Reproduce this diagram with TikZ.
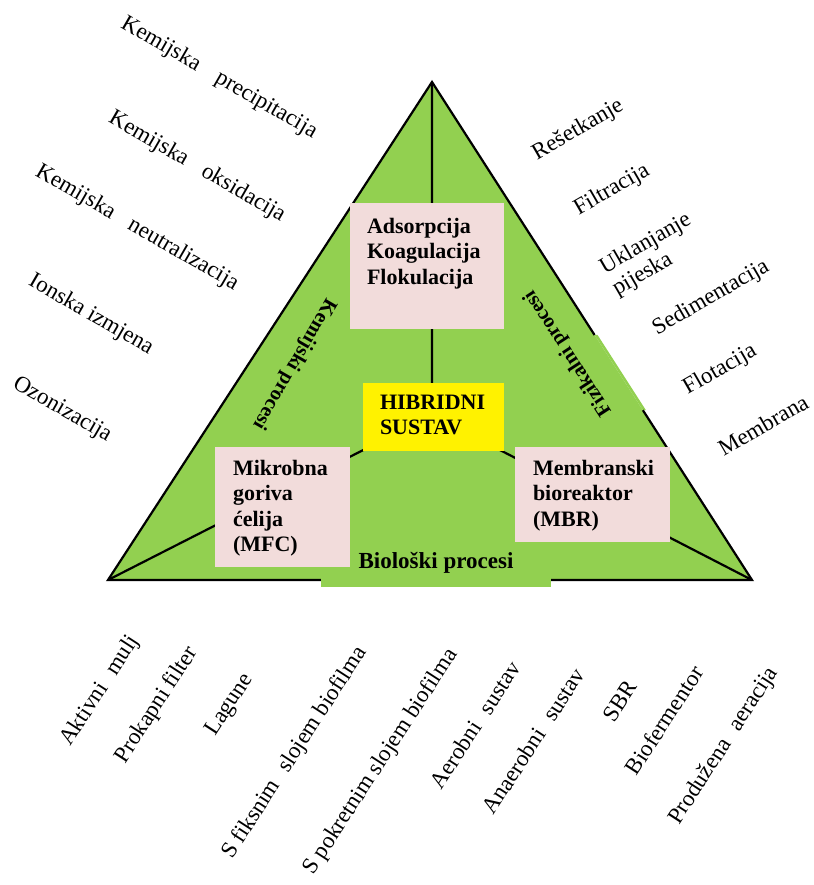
\documentclass[tikz,border=0pt]{standalone}
\usepackage{fontspec}
\setmainfont{Liberation Serif}
\usetikzlibrary{calc}
\definecolor{trigreen}{RGB}{146,208,80}
\definecolor{boxpink}{RGB}{242,220,219}
\begin{document}
\begin{tikzpicture}[x=1pt,y=-1pt,
  lab/.style={font=\fontsize{23}{25}\selectfont,inner sep=0pt},
  llab/.style={lab,rotate=-30},rlab/.style={lab,rotate=30,align=left},blab/.style={lab,rotate=57},
  pbox/.style={fill=boxpink,inner sep=0pt},
  btxt/.style={font=\fontsize{22}{25.5}\selectfont\bfseries,align=left,inner sep=0pt,anchor=north west},
  side/.style={font=\fontsize{20.5}{22}\selectfont\bfseries,inner sep=2pt}]
\useasboundingbox (0,0) rectangle (813,885);
\coordinate (t) at (432,82);\coordinate (l) at (108,580);\coordinate (r) at (752,580);\coordinate (c) at (432,415);
\coordinate (g1) at ($(t)!0.508!(r)$);\coordinate (g2) at ($(t)!0.659!(r)$);
\fill[trigreen] (t)--(l)--(r)--cycle;
\fill[trigreen] (g1)--(g2)--++(3,0)--($(g1)+(3,0)$)--cycle;
\draw[line width=2.2pt] (g2)--(r)--(l)--(t)--(g1);
\draw[line width=2.2pt] (t)--(c) (l)--(c)--(r);
\node[side,rotate=-120] (kem) at (294,364) {Kemijski procesi};
\node[side,rotate=123] (fiz) at (568,353) {Fizikalni procesi};
\node[side,anchor=base,fill=trigreen,inner xsep=38pt,inner ysep=14pt,font=\fontsize{23}{24}\selectfont\bfseries] (bio) at (436,568) {Biološki procesi};
\node[pbox,minimum width=154pt,minimum height=126pt] (ads) at (427,266) {};
\node[pbox,minimum width=135pt,minimum height=120pt] (mfc) at (282.5,507) {};
\node[pbox,minimum width=155pt,minimum height=95pt] (mbr) at (592.5,494.5) {};
\node[pbox,fill=yellow,minimum width=141pt,minimum height=68pt] (hib) at (433.5,417) {};
\node[btxt] (adst) at ($(ads.north west)+(17,15)$) {Adsorpcija\\Koagulacija\\Flokulacija};
\node[btxt] (mfct) at ($(mfc.north west)+(18,13)$) {Mikrobna\\goriva\\ćelija\\(MFC)};
\node[btxt] (mbrt) at ($(mbr.north west)+(18,13)$) {Membranski\\bioreaktor\\(MBR)};
\node[btxt] (hibt) at ($(hib.north west)+(17,12)$) {HIBRIDNI\\SUSTAV};
\node[llab] (prec) at (219,78) {Kemijska\hspace{0.9em}precipitacija};
\node[llab] (oksi) at (197,167) {Kemijska\hspace{0.8em}oksidacija};
\node[llab] (neut) at (137,228) {Kemijska\hspace{0.8em}neutralizacija};
\node[llab] (ions) at (91,315) {Ionska izmjena};
\node[llab] (ozon) at (62,410) {Ozonizacija};
\node[rlab] (rese) at (578,130) {Rešetkanje};
\node[rlab] (filt) at (612,190) {Filtracija};
\node[rlab] (pije) at (652,255) {Uklanjanje\\pijeska};
\node[rlab] (sedi) at (711,298) {Sedimentacija};
\node[rlab] (flot) at (720,370) {Flotacija};
\node[rlab] (memb) at (763,425) {Membrana};
\node[blab] (aktv) at (100,691) {Aktivni\hspace{0.6em}mulj};
\node[blab] (prok) at (157,705) {Prokapni filter};
\node[blab] (lagu) at (230,705) {Lagune};
\node[blab] (fiks) at (295,753) {S fiksnim\hspace{0.6em}slojem biofilma};
\node[blab] (pokr) at (381,762) {S pokretnim slojem biofilma};
\node[blab] (aero) at (475,725) {Aerobni\hspace{0.6em}sustav};
\node[blab] (anae) at (533,741) {Anaerobni\hspace{0.6em}sustav};
\node[blab] (sbr) at (620,701) {SBR};
\node[blab] (biof) at (664,720) {Biofermentor};
\node[blab] (prod) at (724,746) {Produžena\hspace{0.6em}aeracija};
\end{tikzpicture}
\end{document}
